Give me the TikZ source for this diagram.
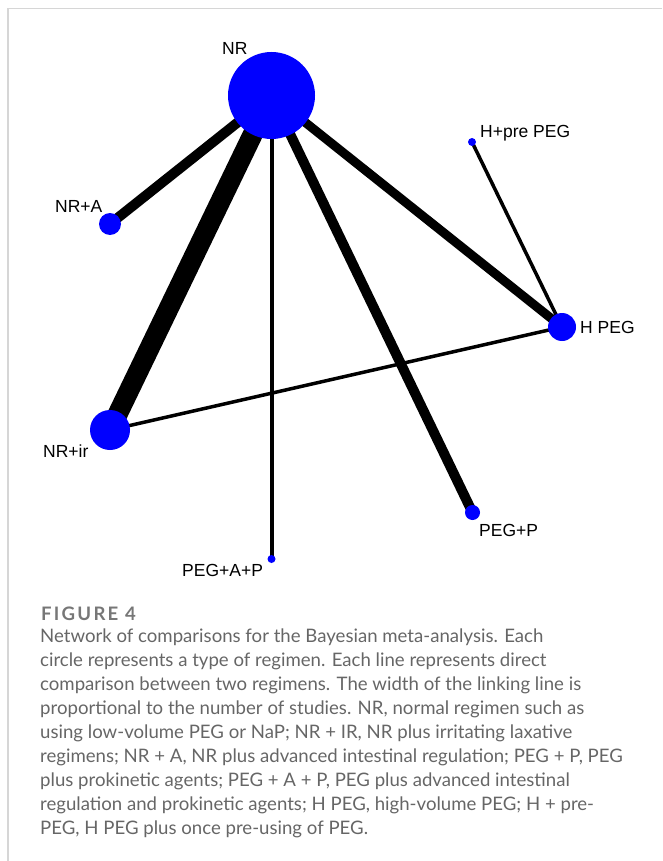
\documentclass[tikz,border=0pt]{standalone}
\usepackage{fontspec}
\setmainfont{Liberation Sans}
\newfontfamily\capfont{Lato}
\newfontfamily\fignofont[LetterSpace=12]{Lato}
\usetikzlibrary{backgrounds}

\definecolor{capgray}{HTML}{666666}
\definecolor{figgray}{HTML}{777777}
\definecolor{framegray}{HTML}{D6D6D6}

\begin{document}
\begin{tikzpicture}[x=1pt,y=-1pt,
    regimen/.style={circle,fill=blue,inner sep=0pt},
    lbl/.style={anchor=base west,inner sep=0pt,font=\fontsize{17.5}{20}\selectfont}]
    \useasboundingbox (0,0) rectangle (662,861);
    %% Draw the frame
    \draw[framegray,line width=1.6pt] (662,8.5) -- (8,8.5) -- (8,861);
    %% Draw the nodes
    \node[regimen,minimum size=87pt] (NR) at (271.5,95.5) {};
    \node[regimen,minimum size=22pt] (NRA) at (110,224) {};
    \node[regimen,minimum size=40pt] (NRir) at (110,430) {};
    \node[regimen,minimum size=8pt] (HpreP) at (472,142) {};
    \node[regimen,minimum size=28pt] (HPEG) at (562,327) {};
    \node[regimen,minimum size=15pt] (PEGP) at (472.5,512.5) {};
    \node[regimen,minimum size=8pt] (PEGAP) at (271.5,559) {};
    %% Draw the labels
    \node[lbl] (NRlbl) at (222,55) {NR};
    \node[lbl] (NRAlbl) at (55,212) {NR+A};
    \node[lbl] (NRirlbl) at (43,457) {NR+ir};
    \node[lbl] (HprePlbl) at (480,138) {H+pre PEG};
    \node[lbl] (HPEGlbl) at (580,333.5) {H PEG};
    \node[lbl] (PEGPlbl) at (479,536) {PEG+P};
    \node[lbl] (PEGAPlbl) at (182,576) {PEG+A+P};
    %% Draw the edges
    \begin{scope}[on background layer,every path/.style={draw=black}]
      \draw[line width=20pt] (NR.center) -- (NRir.center);
      \draw[line width=10pt] (NR.center) -- (NRA.center);
      \draw[line width=10pt] (NR.center) -- (PEGP.center);
      \draw[line width=9pt] (NR.center) -- (HPEG.center);
      \draw[line width=4pt] (NR.center) -- (PEGAP.center);
      \draw[line width=3.5pt] (HpreP.center) -- (HPEG.center);
      \draw[line width=3.5pt] (NRir.center) -- (HPEG.center);
    \end{scope}
    %% Draw the caption
    \node[anchor=base west,inner sep=0pt,text=figgray,
      font=\fignofont\bfseries\fontsize{18.6}{24}\selectfont] (figno) at (41,620) {FIGURE 4};
    \node[anchor=north west,inner sep=0pt,align=left,text=capgray,
      font=\capfont\fontsize{18.6}{24}\selectfont] (caption) at (40,629) {%
      Network of comparisons for the Bayesian meta-analysis. Each\\
      circle represents a type of regimen. Each line represents direct\\
      comparison between two regimens. The width of the linking line is\\
      proportional to the number of studies. NR, normal regimen such as\\
      using low-volume PEG or NaP; NR + IR, NR plus irritating laxative\\
      regimens; NR + A, NR plus advanced intestinal regulation; PEG + P, PEG\\
      plus prokinetic agents; PEG + A + P, PEG plus advanced intestinal\\
      regulation and prokinetic agents; H PEG, high-volume PEG; H + pre-\\
      PEG, H PEG plus once pre-using of PEG.};
\end{tikzpicture}
\end{document}
